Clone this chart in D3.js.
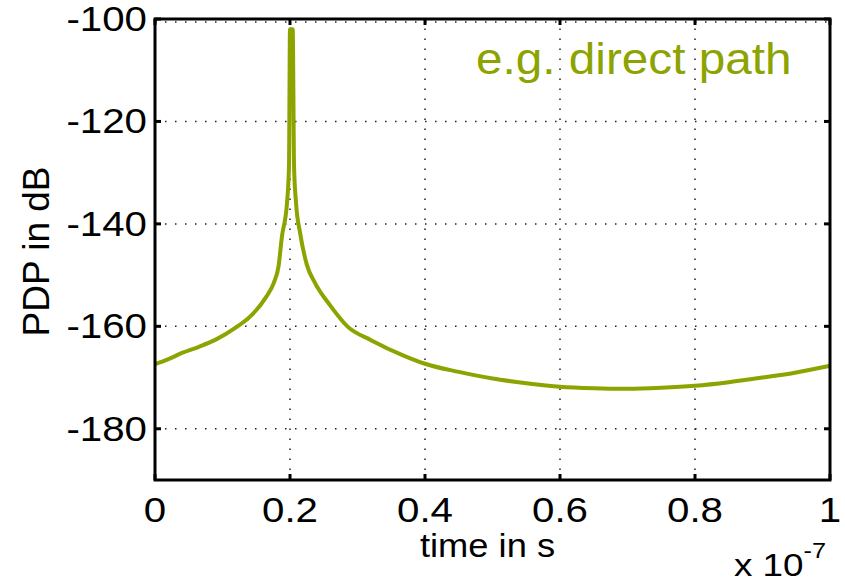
<!DOCTYPE html>
<html>
<head>
<meta charset="utf-8">
<script src="https://cdn.jsdelivr.net/npm/d3@7"></script>
<style>
  body { margin: 0; background: #fff; }
  text { font-family: "Liberation Sans", Arial, sans-serif; }
</style>
</head>
<body>
<div id="chart"></div>
<script>
// time in units of 1e-7 s, PDP in dB
const time = [0, 0.02, 0.04, 0.065, 0.09, 0.12, 0.14, 0.165, 0.176, 0.183, 0.188, 0.1955, 0.1985, 0.2, 0.204, 0.206, 0.209, 0.215, 0.225, 0.237, 0.26, 0.285, 0.32, 0.37, 0.4, 0.45, 0.5, 0.55, 0.6, 0.65, 0.7, 0.75, 0.8, 0.85, 0.9, 0.95, 1.0];
const pdp = [-167.4, -166.4, -165.2, -164, -162.6, -160.2, -158.2, -154.2, -151.5, -148.3, -142.5, -136, -128.8, -102, -102, -128.8, -136, -141.8, -148, -151.5, -156, -160, -162.7, -165.8, -167.3, -168.9, -170.2, -171.1, -171.8, -172.1, -172.2, -172, -171.6, -170.9, -170, -169, -167.7];

const xTicks = [0, 0.2, 0.4, 0.6, 0.8, 1];
const yTicks = [-100, -120, -140, -160, -180];
const lineColor = "#8ca300";

const width = 845, height = 585;
const margin = { top: 19, right: 15, bottom: 105, left: 155 };
const plotW = width - margin.left - margin.right;
const plotH = height - margin.top - margin.bottom;

const svg = d3.select("#chart").append("svg")
  .attr("width", width)
  .attr("height", height);

const x = d3.scaleLinear().domain([0, 1]).range([margin.left, margin.left + plotW]);
const y = d3.scaleLinear().domain([-190, -100]).range([margin.top + plotH, margin.top]);

// grid
svg.append("g").selectAll("line")
  .data(xTicks.slice(1, -1))
  .enter().append("line")
  .attr("x1", d => x(d)).attr("x2", d => x(d))
  .attr("y1", y(-190)).attr("y2", y(-100))
  .attr("stroke", "#222").attr("stroke-width", 1.5)
  .attr("stroke-dasharray", "1.5,8.5");

svg.append("g").selectAll("line")
  .data(yTicks)
  .enter().append("line")
  .attr("x1", x(0)).attr("x2", x(1))
  .attr("y1", d => y(d) + (d === -100 ? 3 : 0)).attr("y2", d => y(d) + (d === -100 ? 3 : 0))
  .attr("stroke", "#222").attr("stroke-width", 1.5)
  .attr("stroke-dasharray", "1.5,8.5");

// curve
const line = d3.line()
  .x((d, i) => x(time[i]))
  .y(d => y(d))
  .curve(d3.curveMonotoneX);

svg.append("path")
  .datum(pdp)
  .attr("d", line)
  .attr("fill", "none")
  .attr("stroke", lineColor)
  .attr("stroke-width", 4)
  .attr("stroke-linejoin", "miter");

// box
svg.append("rect")
  .attr("x", x(0)).attr("y", y(-100))
  .attr("width", plotW).attr("height", plotH)
  .attr("fill", "none").attr("stroke", "#000").attr("stroke-width", 3);

// ticks (inside, all four sides)
const tl = 6;
xTicks.forEach(d => {
  svg.append("line").attr("x1", x(d)).attr("x2", x(d))
    .attr("y1", y(-190)).attr("y2", y(-190) - tl)
    .attr("stroke", "#000").attr("stroke-width", 3);
  svg.append("line").attr("x1", x(d)).attr("x2", x(d))
    .attr("y1", y(-100)).attr("y2", y(-100) + tl)
    .attr("stroke", "#000").attr("stroke-width", 3);
});
yTicks.forEach(d => {
  svg.append("line").attr("x1", x(0)).attr("x2", x(0) + tl)
    .attr("y1", y(d)).attr("y2", y(d))
    .attr("stroke", "#000").attr("stroke-width", 3);
  svg.append("line").attr("x1", x(1)).attr("x2", x(1) - tl)
    .attr("y1", y(d)).attr("y2", y(d))
    .attr("stroke", "#000").attr("stroke-width", 3);
});

// tick labels
svg.append("g").selectAll("text")
  .data(xTicks)
  .enter().append("text")
  .attr("transform", d => `translate(${x(d)},${y(-190) + 42}) scale(1.15,1)`)
  .attr("text-anchor", "middle")
  .attr("font-size", 35)
  .text(d => d === 0 || d === 1 ? d : d3.format(".1f")(d));

svg.append("g").selectAll("text")
  .data(yTicks)
  .enter().append("text")
  .attr("transform", d => `translate(${x(0) - 8},${y(d) + 12}) scale(1.15,1)`)
  .attr("text-anchor", "end")
  .attr("font-size", 35)
  .text(d => d);

// axis titles
svg.append("text")
  .attr("transform", `translate(${x(0.5) - 5},${y(-190) + 77}) scale(1.1,1)`)
  .attr("text-anchor", "middle")
  .attr("font-size", 33)
  .text("time in s");

svg.append("text")
  .attr("transform", `translate(49,${(y(-100) + y(-190)) / 2 + 2}) rotate(-90)`)
  .attr("text-anchor", "middle")
  .attr("font-size", 37)
  .text("PDP in dB");

const expo = svg.append("text")
  .attr("transform", `translate(734,576) scale(1.15,1)`)
  .attr("font-size", 32);
expo.append("tspan").text("x 10");
expo.append("tspan").attr("font-size", 22).attr("dy", -18).text("-7");

// annotation
svg.append("text")
  .attr("transform", `translate(476,74) scale(1.06,1)`)
  .attr("font-size", 45)
  .attr("fill", lineColor)
  .text("e.g. direct path");
</script>
</body>
</html>
